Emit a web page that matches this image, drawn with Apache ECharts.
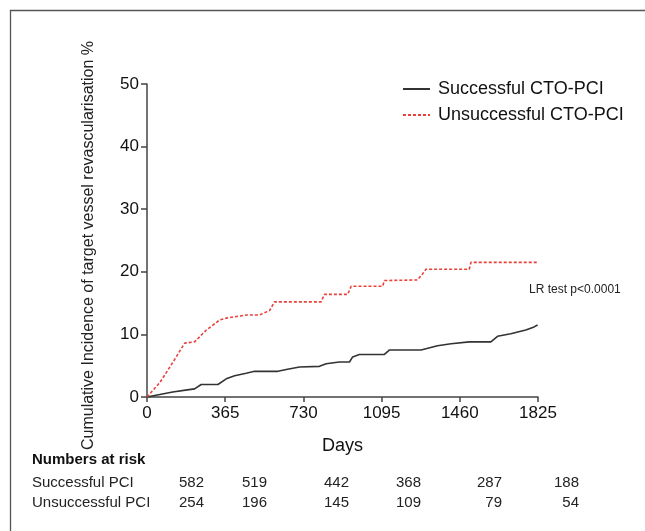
<!DOCTYPE html>
<html>
<head>
<meta charset="utf-8">
<script src="https://cdn.jsdelivr.net/npm/echarts@6/dist/echarts.min.js"></script>
<style>
  html, body { margin: 0; padding: 0; background: #fff; }
  #chart { width: 645px; height: 531px; }
</style>
</head>
<body>
<div id="chart"></div>
<script>
// days ticks on the x axis
var dayTicks = [0, 365, 730, 1095, 1460, 1825];

// successful CTO-PCI: cumulative incidence (%)
var succDays = [0, 60, 120, 180, 222, 253, 331, 370, 409, 463, 502, 611, 650, 712, 805, 836, 898, 945, 960, 991, 1108, 1131, 1279, 1287, 1356, 1419, 1504, 1605, 1636, 1698, 1768, 1807, 1823];
var succRate = [0, 0.4, 0.8, 1.1, 1.3, 2.0, 2.0, 2.9, 3.4, 3.8, 4.1, 4.1, 4.4, 4.8, 4.9, 5.3, 5.6, 5.6, 6.4, 6.8, 6.8, 7.5, 7.5, 7.7, 8.2, 8.5, 8.8, 8.8, 9.7, 10.1, 10.7, 11.2, 11.5];

// unsuccessful CTO-PCI
var unsuccDays = [0, 60, 120, 176, 222, 277, 339, 370, 463, 525, 572, 595, 813, 828, 937, 953, 1100, 1108, 1263, 1287, 1302, 1504, 1512, 1823];
var unsuccRate = [0, 2.3, 5.5, 8.6, 8.8, 10.7, 12.3, 12.6, 13.1, 13.1, 13.8, 15.2, 15.2, 16.4, 16.4, 17.7, 17.7, 18.6, 18.7, 19.7, 20.4, 20.4, 21.5, 21.5];

// numbers at risk table
var riskGroups = ['Successful PCI', 'Unsuccessful PCI'];
var riskSucc = [582, 519, 442, 368, 287, 188];
var riskUnsucc = [254, 196, 145, 109, 79, 54];

function pairs(xs, ys) {
  return xs.map(function (x, i) { return [x, ys[i]]; });
}

var font = '"Liberation Sans", Arial, Helvetica, sans-serif';
var riskColX = [204, 267, 349, 421, 502, 579];

var graphics = [
  {
    type: 'rect',
    shape: { x: 10.5, y: 10.5, width: 700, height: 600 },
    style: { fill: 'none', stroke: '#555', lineWidth: 1.3 },
    silent: true
  },
  {
    type: 'text', left: 529, top: 284,
    style: { text: 'LR test p<0.0001', font: '12px ' + font, fill: '#222' }
  },
  {
    type: 'text', x: 32, y: 460,
    style: { text: 'Numbers at risk', font: 'bold 15px ' + font, fill: '#111', verticalAlign: 'middle' }
  }
];
[riskSucc, riskUnsucc].forEach(function (row, r) {
  var y = r === 0 ? 483 : 503;
  graphics.push({
    type: 'text', x: 32, y: y,
    style: { text: riskGroups[r], font: '15px ' + font, fill: '#222', verticalAlign: 'middle' }
  });
  row.forEach(function (v, i) {
    graphics.push({
      type: 'text', x: riskColX[i], y: y,
      style: { text: String(v), font: '15px ' + font, fill: '#222', align: 'right', verticalAlign: 'middle' }
    });
  });
});

var myChart = echarts.init(document.getElementById('chart'));

myChart.setOption({
  animation: false,
  backgroundColor: '#fff',
  grid: {
    left: 147,
    right: 107,
    top: 84,
    bottom: 134
  },
  legend: {
    orient: 'vertical',
    left: 397,
    top: 75,
    itemWidth: 27,
    itemHeight: 12,
    itemGap: 8,
    itemStyle: { opacity: 0 },
    textStyle: {
      fontFamily: font,
      fontSize: 18,
      color: '#111',
      padding: [0, 0, 0, 3]
    },
    data: ['Successful CTO-PCI', 'Unsuccessful CTO-PCI']
  },
  xAxis: {
    type: 'value',
    min: 0,
    max: 1825,
    interval: 365,
    name: 'Days',
    nameLocation: 'middle',
    nameGap: 40,
    nameTextStyle: { fontFamily: font, fontSize: 18, color: '#111' },
    axisLine: { lineStyle: { color: '#444', width: 1.5 } },
    axisTick: { lineStyle: { color: '#444', width: 1.5 }, length: 5 },
    axisLabel: {
      fontFamily: font, fontSize: 17, color: '#111', margin: 8,
      formatter: function (v) { return dayTicks.indexOf(v) >= 0 ? String(v) : ''; }
    },
    splitLine: { show: false }
  },
  yAxis: {
    type: 'value',
    min: 0,
    max: 50,
    interval: 10,
    name: 'Cumulative Incidence of target vessel revascularisation %',
    nameLocation: 'middle',
    nameGap: 50,
    nameTextStyle: { fontFamily: font, fontSize: 16, color: '#222', padding: [0, 10, 0, 0] },
    axisLine: { show: true, lineStyle: { color: '#444', width: 1.5 } },
    axisTick: { show: true, lineStyle: { color: '#444', width: 1.5 }, length: 6 },
    axisLabel: { fontFamily: font, fontSize: 17, color: '#111', margin: 8 },
    splitLine: { show: false }
  },
  series: [
    {
      name: 'Successful CTO-PCI',
      type: 'line',
      symbol: 'none',
      data: pairs(succDays, succRate),
      itemStyle: { color: '#333' },
      lineStyle: { color: '#333', width: 1.6 }
    },
    {
      name: 'Unsuccessful CTO-PCI',
      type: 'line',
      symbol: 'none',
      data: pairs(unsuccDays, unsuccRate),
      itemStyle: { color: '#e8413a' },
      lineStyle: { color: '#e8413a', width: 1.6, type: [3, 2] }
    }
  ],
  graphic: graphics
});
</script>
</body>
</html>
